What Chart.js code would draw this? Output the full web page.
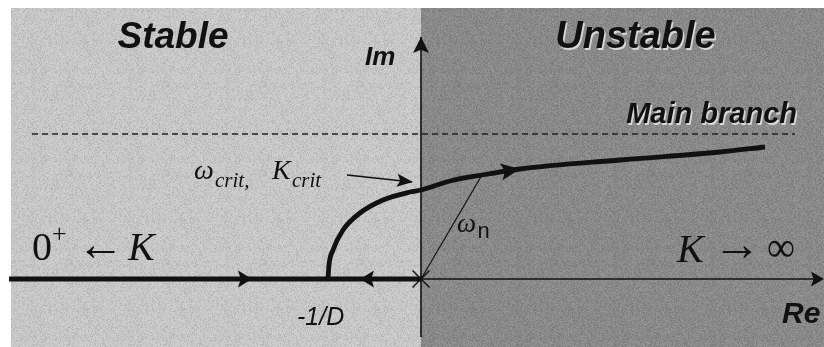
<!DOCTYPE html>
<html>
<head>
<meta charset="utf-8">
<script src="https://cdn.jsdelivr.net/npm/chart.js@4"></script>
<style>
  html, body { margin: 0; padding: 0; background: #fff; }
  #wrap { width: 824px; height: 347px; }
</style>
</head>
<body>
<div id="wrap"><canvas id="locus" width="824" height="347"></canvas></div>
<script>
// root locus sketch, 1 unit = 100px, origin at the pole
const realAxisLeft = [{x: -4.12, y: 0}, {x: 0, y: 0}];
const realAxisRight = [{x: 0, y: 0}, {x: 4.01, y: 0}];
const imAxis = [{x: 0, y: -0.58}, {x: 0, y: 2.42}];
const mainBranch = [
  {x: -0.93, y: 0.00}, {x: -0.92, y: 0.14}, {x: -0.88, y: 0.29}, {x: -0.78, y: 0.49},
  {x: -0.61, y: 0.66}, {x: -0.38, y: 0.79}, {x: -0.11, y: 0.87}, {x: 0.00, y: 0.89},
  {x: 0.29, y: 0.98}, {x: 0.61, y: 1.04}, {x: 0.99, y: 1.10}, {x: 1.99, y: 1.19},
  {x: 2.99, y: 1.27}, {x: 3.44, y: 1.32}
];
const asymptote = [{x: -3.89, y: 1.45}, {x: 3.74, y: 1.45}];
const omegaN = [{x: 0, y: 0}, {x: 0.61, y: 1.04}];
const critPointer = [{x: -0.74, y: 1.04}, {x: -0.09, y: 0.97}];
const openLoopPole = [{x: 0, y: 0}];

const xRange = [-4.21, 4.03];
const yRange = [-0.68, 2.79];
const stableEdge = -4.10;   // left end of the shaded panel
const panelTop = 2.71;

// arrowheads: tip, a point behind it, length, width (px)
const arrows = [
  {tip: [-1.69, 0], from: [-2.5, 0], len: 14, w: 17},
  {tip: [-0.61, 0], from: [0, 0], len: 14, w: 17},
  {tip: [0.99, 1.10], from: [0.61, 1.04], len: 19, w: 17},
  {tip: [-0.08, 0.97], from: [-0.74, 1.04], len: 16, w: 13},
  {tip: [4.03, 0], from: [3, 0], len: 13, w: 15},
  {tip: [0, 2.42], from: [0, 2], len: 16, w: 16}
];

const SANS = '"Liberation Sans", Arial, sans-serif';
const SERIF = '"Liberation Serif", "Times New Roman", serif';

// text runs, anchored in data units (w = width to stretch the glyph to)
const labels = [
  {x: -2.48, y: 2.31, t: 'Stable', font: 'italic bold 37px ' + SANS, align: 'center'},
  {x: 2.145, y: 2.31, t: 'Unstable', font: 'italic bold 38px ' + SANS, align: 'center', halo: true},
  {x: -0.56, y: 2.14, t: 'Im', font: 'italic bold 26px ' + SANS},
  {x: 3.76, y: 1.56, t: 'Main branch', font: 'italic bold 29px ' + SANS, align: 'right', halo: true},
  {x: 3.61, y: -0.44, t: 'Re', font: 'italic bold 30px ' + SANS},
  {x: -1.24, y: -0.46, t: '-1/D', font: 'italic 25px ' + SANS},
  {x: -3.89, y: 0.19, t: '0', font: '40px ' + SERIF},
  {x: -3.69, y: 0.37, t: '+', font: '26px ' + SERIF},
  {x: -3.44, y: 0.19, t: '\u2190', font: '48px ' + SERIF, w: 0.47},
  {x: -2.93, y: 0.19, t: 'K', font: 'italic 40px ' + SERIF},
  {x: 2.56, y: 0.17, t: 'K', font: 'italic 40px ' + SERIF},
  {x: 2.92, y: 0.19, t: '\u2192', font: '48px ' + SERIF, w: 0.48},
  {x: 3.46, y: 0.18, t: '\u221E', font: '42px ' + SERIF, w: 0.28},
  {x: -2.27, y: 1.00, t: '\u03C9', font: 'italic 28px ' + SERIF},
  {x: -2.06, y: 0.92, t: 'crit,', font: 'italic 21px ' + SERIF},
  {x: -1.49, y: 1.00, t: 'K', font: 'italic 28px ' + SERIF},
  {x: -1.29, y: 0.92, t: 'crit', font: 'italic 21px ' + SERIF},
  {x: 0.36, y: 0.47, t: '\u03C9', font: 'italic 27px ' + SERIF},
  {x: 0.565, y: 0.41, t: 'n', font: '22px ' + SANS}
];

const INK = '#111';
const LIGHT = '#cacaca';
const DARK = '#8a8a8a';

// photocopy grain, deterministic
function grainPattern(ctx) {
  const c = document.createElement('canvas');
  c.width = 97; c.height = 89;
  const g = c.getContext('2d');
  const img = g.createImageData(c.width, c.height);
  for (let i = 0; i < c.width * c.height; i++) {
    const h = Math.sin(i * 12.9898 + 78.233) * 43758.5453;
    const v = h - Math.floor(h);
    const dark = v < 0.5;
    img.data[i * 4] = img.data[i * 4 + 1] = img.data[i * 4 + 2] = dark ? 0 : 255;
    img.data[i * 4 + 3] = Math.round(Math.abs(v - 0.5) * 2 * 28);
  }
  g.putImageData(img, 0, 0);
  return ctx.createPattern(c, 'repeat');
}

const panels = {
  id: 'panels',
  beforeDraw(chart) {
    const {ctx} = chart;
    const sx = chart.scales.x, sy = chart.scales.y;
    const x0 = sx.getPixelForValue(stableEdge);
    const xm = sx.getPixelForValue(0);
    const xr = sx.getPixelForValue(xRange[1]);
    const yt = sy.getPixelForValue(panelTop);
    const yb = sy.getPixelForValue(yRange[0]);
    ctx.save();
    ctx.fillStyle = '#fff';
    ctx.fillRect(0, 0, chart.width, chart.height);
    ctx.fillStyle = LIGHT;
    ctx.fillRect(x0, yt, xm - x0, yb - yt);
    ctx.fillStyle = DARK;
    ctx.fillRect(xm, yt, xr - xm, yb - yt);
    ctx.fillStyle = grainPattern(ctx);
    ctx.fillRect(x0, yt, xr - x0, yb - yt);
    ctx.restore();
  }
};

const decorations = {
  id: 'decorations',
  afterDatasetsDraw(chart) {
    const {ctx} = chart;
    const sx = chart.scales.x, sy = chart.scales.y;
    const unit = sx.getPixelForValue(1) - sx.getPixelForValue(0);
    ctx.save();
    ctx.fillStyle = INK;
    arrows.forEach(a => {
      const tx = sx.getPixelForValue(a.tip[0]), ty = sy.getPixelForValue(a.tip[1]);
      const fx = sx.getPixelForValue(a.from[0]), fy = sy.getPixelForValue(a.from[1]);
      const ang = Math.atan2(ty - fy, tx - fx);
      ctx.save();
      ctx.translate(tx, ty);
      ctx.rotate(ang);
      ctx.beginPath();
      ctx.moveTo(0, 0);
      ctx.lineTo(-a.len, -a.w / 2);
      ctx.lineTo(-a.len * 0.8, 0);
      ctx.lineTo(-a.len, a.w / 2);
      ctx.closePath();
      ctx.fill();
      ctx.restore();
    });
    ctx.textBaseline = 'alphabetic';
    labels.forEach(l => {
      const px = sx.getPixelForValue(l.x), py = sy.getPixelForValue(l.y);
      ctx.font = l.font;
      ctx.textAlign = l.align || 'left';
      ctx.save();
      ctx.translate(px, py);
      if (l.w) {
        const m = ctx.measureText(l.t).width;
        ctx.scale(l.w * unit / m, 1);
      }
      if (l.halo) {
        ctx.fillStyle = '#d8d8d8';
        ctx.fillText(l.t, 1.5, 1.5);
      }
      ctx.fillStyle = INK;
      ctx.fillText(l.t, 0, 0);
      ctx.restore();
    });
    ctx.restore();
  }
};

function lineSet(data, width, extra) {
  return Object.assign({
    data: data, showLine: true, borderColor: INK, borderWidth: width,
    pointRadius: 0, fill: false, clip: false
  }, extra || {});
}

new Chart(document.getElementById('locus'), {
  type: 'scatter',
  data: {
    datasets: [
      lineSet(asymptote, 1.4, {borderDash: [6, 4], borderColor: '#222'}),
      lineSet(imAxis, 1.6),
      lineSet(realAxisRight, 1.6),
      lineSet(omegaN, 1.2),
      lineSet(critPointer, 1.6),
      lineSet(realAxisLeft, 4.8),
      lineSet(mainBranch, 4.8, {cubicInterpolationMode: 'monotone', borderCapStyle: 'butt'}),
      {data: openLoopPole, showLine: false, pointStyle: 'crossRot', pointRadius: 12,
       borderColor: INK, borderWidth: 1.4, backgroundColor: INK, clip: false}
    ]
  },
  options: {
    responsive: false,
    devicePixelRatio: 1,
    animation: false,
    events: [],
    layout: {padding: 0, autoPadding: false},
    plugins: {legend: {display: false}, tooltip: {enabled: false}},
    scales: {
      x: {type: 'linear', display: false, min: xRange[0], max: xRange[1]},
      y: {type: 'linear', display: false, min: yRange[0], max: yRange[1]}
    }
  },
  plugins: [panels, decorations]
});
</script>
</body>
</html>
